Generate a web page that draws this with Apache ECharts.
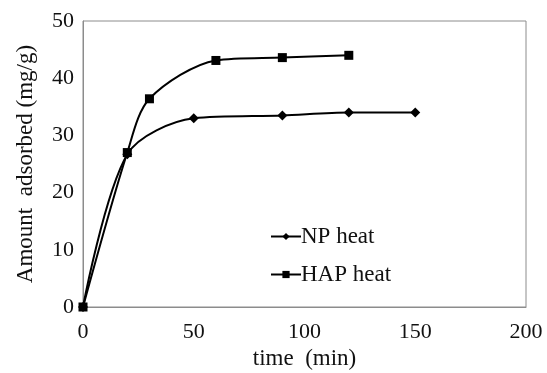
<!DOCTYPE html>
<html>
<head>
<meta charset="utf-8">
<script src="https://cdn.jsdelivr.net/npm/echarts@6/dist/echarts.min.js"></script>
<style>html,body{margin:0;padding:0;background:#fff;}#c{width:547px;height:373px;}</style>
</head>
<body>
<div id="c"></div>
<script>
var npTime = [0, 20, 50, 90, 120, 150];
var npValues = [0, 26.7, 33.0, 33.5, 34.0, 34.0];
var hapTime = [0, 20, 30, 60, 90, 120];
var hapValues = [0, 27.0, 36.4, 43.1, 43.6, 44.0];
var xTicks = [0, 50, 100, 150, 200];
var yTicks = [0, 10, 20, 30, 40, 50];

function pairs(xs, ys) { return xs.map(function (x, i) { return [x, ys[i]]; }); }

var font = 'Liberation Serif';
var chart = echarts.init(document.getElementById('c'));
chart.setOption({
  animation: false,
  backgroundColor: '#fff',
  grid: { left: 83, right: 21, top: 21, bottom: 66, show: true, borderColor: '#8c8c8c', borderWidth: 1, outerBoundsMode: 'none', containLabel: false },
  xAxis: {
    type: 'value', min: xTicks[0], max: xTicks[xTicks.length - 1], interval: 50,
    name: 'time  (min)', nameLocation: 'middle', nameGap: 40,
    nameTextStyle: { fontFamily: font, fontSize: 23, color: '#111' },
    axisLine: { show: true, lineStyle: { color: '#8c8c8c' } },
    axisTick: { show: false }, splitLine: { show: false },
    axisLabel: { fontFamily: font, fontSize: 22, color: '#111', margin: 14 }
  },
  yAxis: {
    type: 'value', min: yTicks[0], max: yTicks[yTicks.length - 1], interval: 10,
    name: 'Amount  adsorbed (mg/g)', nameLocation: 'middle', nameGap: 46,
    nameTextStyle: { fontFamily: font, fontSize: 23, color: '#111' },
    axisLine: { show: true, lineStyle: { color: '#8c8c8c' } },
    axisTick: { show: false }, splitLine: { show: false },
    axisLabel: { fontFamily: font, fontSize: 22, color: '#111', margin: 9 }
  },
  legend: {
    orient: 'vertical', left: 265, top: 220, itemGap: 15, itemWidth: 30, itemHeight: 9,
    textStyle: { fontFamily: font, fontSize: 23, color: '#111', padding: [0, 0, 0, -5] },
    data: ['NP heat', 'HAP heat']
  },
  series: [
    {
      name: 'NP heat', type: 'line', smooth: 0.3, data: pairs(npTime, npValues),
      symbol: 'diamond', symbolSize: 10,
      lineStyle: { color: '#000', width: 2 }, itemStyle: { color: '#000' }
    },
    {
      name: 'HAP heat', type: 'line', smooth: 0.3, data: pairs(hapTime, hapValues),
      symbol: 'rect', symbolSize: 9,
      lineStyle: { color: '#000', width: 2 }, itemStyle: { color: '#000' }
    }
  ]
});
</script>
</body>
</html>
